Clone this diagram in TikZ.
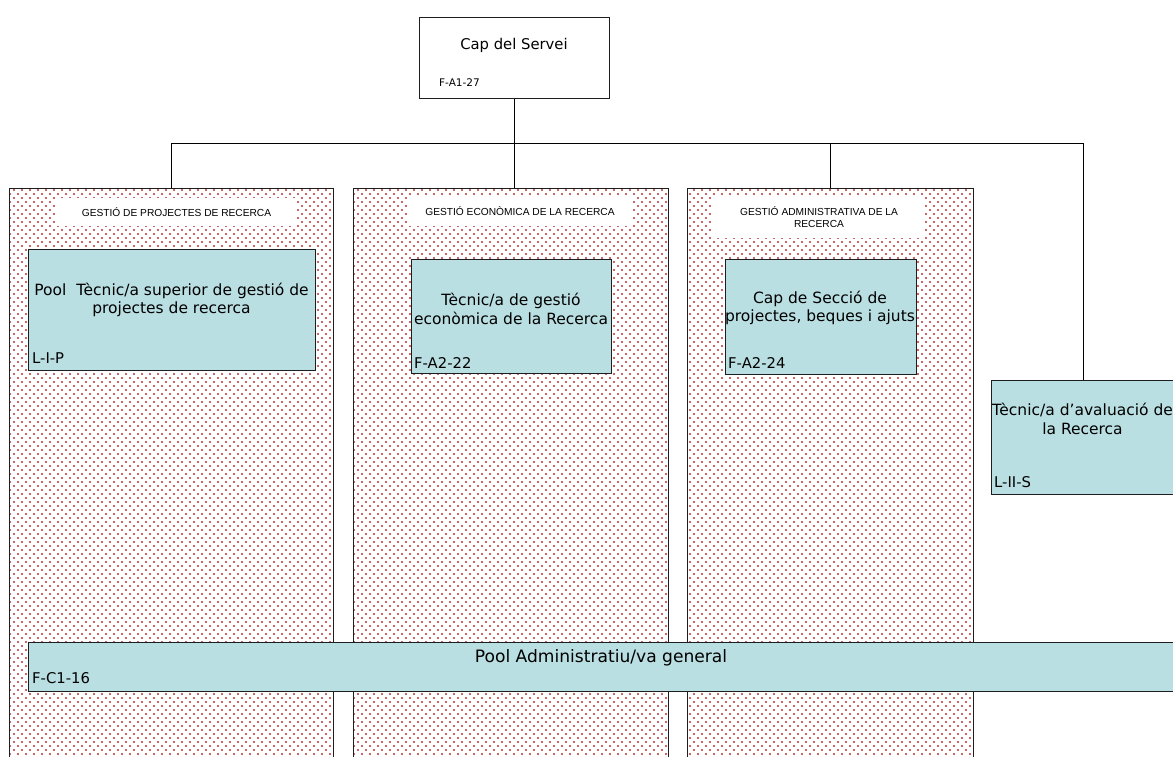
\documentclass[tikz,border=0pt]{standalone}
\usepackage{fontspec}
\setmainfont{DejaVu Sans}
\newfontfamily\capfont{Liberation Sans}
\usetikzlibrary{patterns}

% sparse diagonal grid of dots for the section areas
\pgfdeclarepatternformonly{reddots}{\pgfpoint{-1pt}{-1pt}}{\pgfpoint{9pt}{9pt}}{\pgfpoint{8pt}{8pt}}{%
  \pgfpathcircle{\pgfpoint{2pt}{2pt}}{1.05pt}%
  \pgfpathcircle{\pgfpoint{6pt}{6pt}}{1.05pt}%
  \pgfusepath{fill}}

\definecolor{dotred}{RGB}{180,50,50}
\definecolor{posfill}{RGB}{186,223,226}
\definecolor{edge}{RGB}{30,30,30}

\begin{document}
\begin{tikzpicture}[x=1pt,y=-1pt,
  wire/.style={draw=black,line width=1pt},
  areabox/.style={draw=edge,line width=1pt,pattern=reddots,pattern color=dotred,
    inner sep=0pt,anchor=north west},
  posbox/.style={draw=edge,line width=1.2pt,fill=posfill,inner sep=0pt,anchor=north west},
  headbox/.style={fill=white,inner sep=0pt,align=center,
    font=\capfont\fontsize{10.2}{12}\selectfont},
  postext/.style={inner sep=0pt,align=center,font=\fontsize{15.5}{18.5}\selectfont},
  code/.style={inner sep=0pt,anchor=base west,font=\fontsize{14.8}{17}\selectfont},
  smallcode/.style={inner sep=0pt,anchor=base west,font=\fontsize{10.5}{12}\selectfont}]

\useasboundingbox (0,0) rectangle (1173,756);
\clip (0,0) rectangle (1173,756);

% head of the service
\node[draw=edge,line width=1pt,fill=white,inner sep=0pt,anchor=north west,
  minimum width=190,minimum height=81] (boss) at (419,17) {};
\node[postext,font=\fontsize{14.8}{18}\selectfont] (bossname) at (514,45) {Cap del Servei};
\node[smallcode] (bosscode) at (439,86) {F-A1-27};

% three sections
\node[areabox,minimum width=324,minimum height=600] (g1) at (9,188) {};
\node[areabox,minimum width=315,minimum height=600] (g2) at (353,188) {};
\node[areabox,minimum width=286,minimum height=600] (g3) at (687,188) {};

\node[headbox,minimum width=239,minimum height=28] (h1) at (176.5,212)
  {GESTIÓ DE PROJECTES DE RECERCA};
\node[headbox,minimum width=224,minimum height=29] (h2) at (520,211.5)
  {GESTIÓ ECONÒMICA DE LA RECERCA};
\node[headbox,minimum width=212,minimum height=41] (h3) at (819,217.5)
  {GESTIÓ ADMINISTRATIVA DE LA\\RECERCA};

% posts inside the sections
\node[posbox,minimum width=287,minimum height=121] (p1) at (28,249) {};
\node[postext] (p1name) at (171.5,300) {Pool\ \ Tècnic/a superior de gestió de\\projectes de recerca};
\node[code] (p1code) at (32,363) {L-I-P};

\node[posbox,minimum width=200,minimum height=114] (p2) at (411,259) {};
\node[postext] (p2name) at (511,309) {Tècnic/a de gestió\\econòmica de la Recerca};
\node[code] (p2code) at (414,368) {F-A2-22};

\node[posbox,minimum width=191,minimum height=115] (p3) at (724.5,259) {};
\node[postext] (p3name) at (820,308) {Cap de Secció de\\projectes, beques i ajuts};
\node[code] (p3code) at (728,368) {F-A2-24};

% evaluation post
\node[posbox,minimum width=183,minimum height=114] (tec) at (991,380) {};
\node[postext] (tecname) at (1082.5,419) {Tècnic/a d’avaluació de\\la Recerca};
\node[code] (teccode) at (994,487) {L-II-S};

% shared administrative pool across the sections
\node[posbox,minimum width=1144.5,minimum height=49] (pool) at (28,642) {};
\node[postext,font=\fontsize{17.1}{20}\selectfont] (poolname) at (601,658) {Pool Administratiu/va general};
\node[code] (poolcode) at (32,683) {F-C1-16};

% reporting lines
\coordinate (bus) at (514,143);
\draw[wire,line width=1.4pt] (boss.south) -- (boss.south |- bus);
\draw[wire] (g1.north) |- (tec.north |- bus) -- (tec.north);
\draw[wire] (boss.south |- bus) -- (boss.south |- g2.north);
\draw[wire] (g3.north |- bus) -- (g3.north);
\end{tikzpicture}
\end{document}
